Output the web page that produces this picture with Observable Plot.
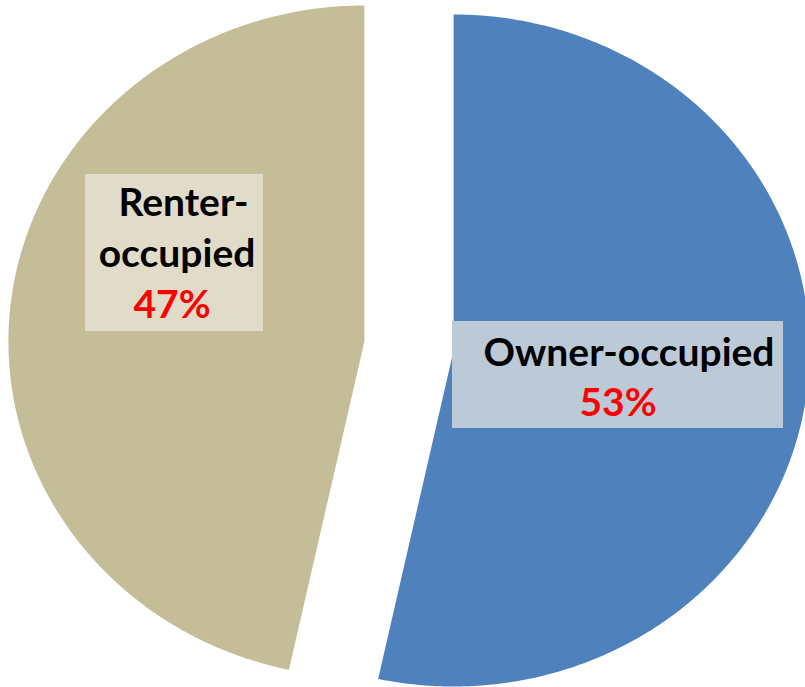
<!DOCTYPE html>
<html><head><meta charset="utf-8">
<script src="https://cdn.jsdelivr.net/npm/d3@7"></script>
<script src="https://cdn.jsdelivr.net/npm/@observablehq/plot@0.6"></script>
<style>html,body{margin:0;padding:0;background:#fff;} svg{display:block}</style>
</head><body><div id="chart"></div>
<script>
// ---- data ----
const categories = ["Owner-occupied", "Renter-occupied"];
const shares = [53.4, 46.6];
const percentLabels = ["53%", "47%"];
const nameLines = [["Owner-occupied"], ["Renter-", "occupied"]];

// ---- layout (pixels) ----
const W = 805, H = 687;
const CX = 408.5, CY = 345.5, RX = 356, RY = 336;
const toX = px => (px - CX) / RX, toY = py => (CY - py) / RY;
const EXPLODE = 0.126;
const sliceColors = ["#4F81BD", "#C4BD97"];
const boxColors = ["#BCCAD7", "#E1DCCA"];
const boxes = [
  {x1: 452, x2: 783, y1: 321, y2: 428},
  {x1: 85, x2: 263, y1: 174, y2: 331}
];
const nameLinePos = [
  [[628.5, 365]],
  [[183, 215], [176.5, 266]]
];
const pctPos = [[617.5, 415], [171.5, 317]];
const FONT = 39;

// ---- geometry from data ----
const arcs = d3.pie().sort(null).value(d => d)(shares);
const polys = [];
arcs.forEach((a, i) => {
  const mid = (a.startAngle + a.endAngle) / 2;
  const ox = EXPLODE * Math.sin(mid), oy = EXPLODE * Math.cos(mid);
  polys.push({slice: categories[i], x: ox, y: oy});
  const n = 300;
  for (let k = 0; k <= n; k++) {
    const t = a.startAngle + (a.endAngle - a.startAngle) * k / n;
    polys.push({slice: categories[i], x: ox + Math.sin(t), y: oy + Math.cos(t)});
  }
});

const boxData = categories.map((c, i) => ({
  slice: c, x1: toX(boxes[i].x1), x2: toX(boxes[i].x2), y1: toY(boxes[i].y2), y2: toY(boxes[i].y1), fill: boxColors[i]
}));
const nameData = [];
categories.forEach((c, i) => nameLines[i].forEach((t, j) => nameData.push({text: t, x: toX(nameLinePos[i][j][0]), y: toY(nameLinePos[i][j][1])})));
const pctData = categories.map((c, i) => ({text: percentLabels[i], x: toX(pctPos[i][0]), y: toY(pctPos[i][1])}));

const chart = Plot.plot({
  width: W, height: H,
  margin: 0,
  style: {background: "#fff", fontFamily: "Lato, sans-serif"},
  x: {domain: [toX(0), toX(W)], axis: null},
  y: {domain: [toY(H), toY(0)], axis: null},
  color: {domain: categories, range: sliceColors},
  marks: [
    Plot.line(polys, {x: "x", y: "y", z: "slice", fill: "slice", stroke: "none", curve: "linear-closed"}),
    Plot.rect(boxData, {x1: "x1", x2: "x2", y1: "y1", y2: "y2", fill: d => d.fill}),
    Plot.text(nameData, {x: "x", y: "y", text: "text", fill: "#000", fontSize: FONT, fontWeight: "bold", lineAnchor: "bottom", textAnchor: "middle"}),
    Plot.text(pctData, {x: "x", y: "y", text: "text", fill: "#FF0000", fontSize: FONT, fontWeight: "bold", lineAnchor: "bottom", textAnchor: "middle"})
  ]
});
document.getElementById("chart").appendChild(chart);
</script>
</body></html>
